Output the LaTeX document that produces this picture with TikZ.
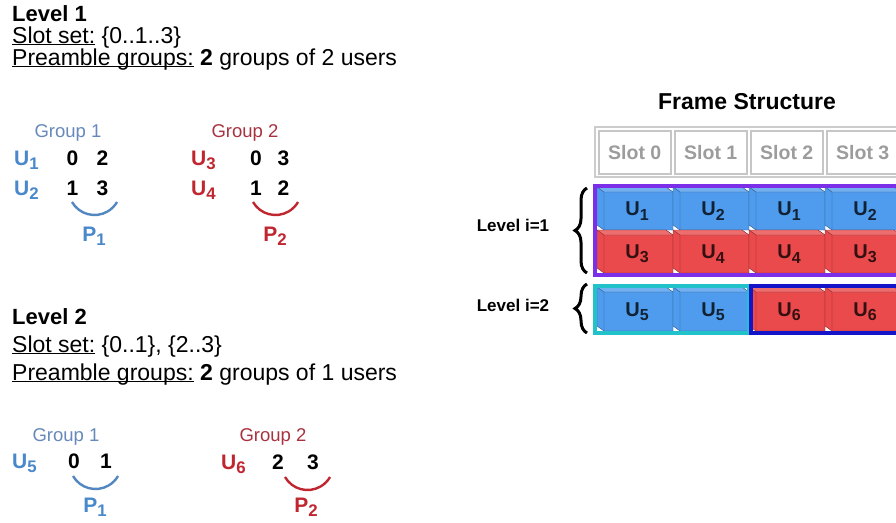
\documentclass[tikz,border=0pt]{standalone}
\usepackage{fontspec}
\setmainfont{Liberation Sans}
\usepackage{graphicx}
\usetikzlibrary{positioning,decorations.pathreplacing}
\usepackage{xcolor}

\definecolor{gblue}{HTML}{4A88CC}
\definecolor{glab}{HTML}{6688BB}
\definecolor{gred}{HTML}{C0262F}
\definecolor{rlab}{HTML}{A83240}
\definecolor{cblue}{HTML}{4F9CEE}
\definecolor{cred}{HTML}{EA4A4C}
\definecolor{slotgray}{HTML}{9C9C9C}
\definecolor{purp}{HTML}{7B2FE8}
\definecolor{cyanb}{HTML}{22C2CA}
\definecolor{deepb}{HTML}{1414C8}

\newcommand{\ul}[1]{\underline{\smash{#1}}}
\newcommand{\idx}[2]{#1\raisebox{-0.22em}{\scalebox{0.8}{#2}}}

\tikzset{
  head/.style={anchor=base west,inner sep=0pt,font=\bfseries\fontsize{22}{26}\selectfont},
  body/.style={anchor=base west,inner sep=0pt,font=\fontsize{23}{27}\selectfont},
  grp/.style={anchor=base,inner sep=0pt,font=\fontsize{18.5}{22}\selectfont},
  usr/.style={anchor=base west,inner sep=0pt,font=\bfseries\fontsize{21}{24}\selectfont},
  dig/.style={anchor=base,inner sep=0pt,font=\bfseries\fontsize{21}{24}\selectfont},
  pre/.style={anchor=base,inner sep=0pt,font=\bfseries\fontsize{21}{24}\selectfont},
  slotbox/.style={draw=gray!45,fill=white,line width=1.5pt},
  pics/cell/.style args={#1/#2/#3}{code={
    % box seen from the front, top and left side
    \fill[#1] (0,0) -- (69,0) -- (76,5) -- (76,#3) -- (7,#3) -- (0,#3-5) -- cycle;
    \fill[#1!80!white] (0,0) -- (69,0) -- (76,5) -- (7,5) -- cycle;
    \draw[#1!55!black,line width=0.4pt] (0,0) -- (69,0) -- (76,5) -- (76,#3) -- (7,#3) -- (0,#3-5) -- cycle;
    \draw[#1!55!black,line width=0.4pt] (0,0) -- (7,5) -- (76,5) (7,5) -- (7,#3);
    \node[font=\bfseries\fontsize{20}{22}\selectfont,text=#1!22!black,inner sep=0pt] (-t) at (40,24+#3/2-21.5) {#2};
  }}
}

\begin{document}
\begin{tikzpicture}[x=1pt,y=-1pt]
  \useasboundingbox (0,0) rectangle (896,522);
  \clip (0,0) rectangle (896,522);

  % level 1
  \node[head] (lv1) at (12,21) {Level 1};
  \node[body] (set1) at (12,43) {\ul{Slot set:} \{0..1..3\}};
  \node[body] (pg1) at (12,65) {\ul{Preamble groups:} \textbf{2} groups of 2 users};

  \node[grp,text=glab] (g11) at (68,137) {Group 1};
  \node[usr,text=gblue] (u1) at (14,165) {\idx{U}{1}};
  \node[usr,text=gblue] (u2) at (14,195) {\idx{U}{2}};
  \node[dig] (d10) at (72.5,165) {0};
  \node[dig] (d12) at (102.5,165) {2};
  \node[dig] (d11) at (72.5,195) {1};
  \node[dig] (d13) at (102.5,195) {3};
  \draw[gblue!85!gray,line width=2.4pt] (72,202) arc[start angle=150,end angle=30,radius=26];
  \node[pre,text=gblue] (p11) at (94,241) {\idx{P}{1}};

  \node[grp,text=rlab] (g12) at (245,137) {Group 2};
  \node[usr,text=gred] (u3) at (191,165) {\idx{U}{3}};
  \node[usr,text=gred] (u4) at (191,195) {\idx{U}{4}};
  \node[dig] (d20) at (256,165) {0};
  \node[dig] (d23) at (283.5,165) {3};
  \node[dig] (d21) at (256,195) {1};
  \node[dig] (d22) at (283.5,195) {2};
  \draw[gred,line width=2.4pt] (253,202) arc[start angle=150,end angle=30,radius=26];
  \node[pre,text=gred] (p12) at (275,241) {\idx{P}{2}};

  % level 2
  \node[head] (lv2) at (12,324) {Level 2};
  \node[body] (set2) at (12,352) {\ul{Slot set:} \{0..1\}, \{2..3\}};
  \node[body] (pg2) at (12,380) {\ul{Preamble groups:} \textbf{2} groups of 1 users};

  \node[grp,text=glab] (g21) at (66,441) {Group 1};
  \node[usr,text=gblue] (u5) at (12,468) {\idx{U}{5}};
  \node[dig] (d30) at (74,468) {0};
  \node[dig] (d31) at (106,468) {1};
  \draw[gblue!85!gray,line width=2.4pt] (73,476) arc[start angle=150,end angle=30,radius=26];
  \node[pre,text=gblue] (p21) at (95,512) {\idx{P}{1}};

  \node[grp,text=rlab] (g22) at (273,441) {Group 2};
  \node[usr,text=gred] (u6) at (221,469) {\idx{U}{6}};
  \node[dig] (d42) at (278,469) {2};
  \node[dig] (d43) at (313,469) {3};
  \draw[gred,line width=2.4pt] (285,477) arc[start angle=150,end angle=30,radius=26];
  \node[pre,text=gred] (p22) at (306,512) {\idx{P}{2}};

  % frame structure
  \node[anchor=base,inner sep=0pt,font=\bfseries\fontsize{23}{26}\selectfont] (fs) at (747,109) {Frame Structure};
  \draw[gray!40,line width=1.5pt] (595,127) rectangle (910,177);
  \foreach \k in {0,...,3}
    \node[slotbox,minimum width=72pt,minimum height=43pt,anchor=north west,
          font=\bfseries\fontsize{19.5}{22}\selectfont,text=slotgray] (s\k) at (598+76*\k,130) {Slot \k};

  \foreach \lab [count=\k from 0] in {\idx{U}{1},\idx{U}{2},\idx{U}{1},\idx{U}{2}}
    \pic (a\k) at (597+76*\k,187) {cell={cblue/\lab/43}};
  \foreach \lab [count=\k from 0] in {\idx{U}{3},\idx{U}{4},\idx{U}{4},\idx{U}{3}}
    \pic (b\k) at (597+76*\k,230) {cell={cred/\lab/43}};
  \foreach \lab [count=\k from 0] in {\idx{U}{5},\idx{U}{5}}
    \pic (c\k) at (597+76*\k,287) {cell={cblue/\lab/44}};
  \foreach \lab [count=\k from 2] in {\idx{U}{6},\idx{U}{6}}
    \pic (c\k) at (597+76*\k,287) {cell={cred/\lab/44}};

  \draw[purp,line width=4pt] (594.5,185.5) rectangle (912,275);
  \draw[cyanb,line width=4pt] (594.5,285.5) rectangle (749,333);
  \draw[deepb,line width=4pt] (751,285.5) rectangle (912,333);

  % levels
  \node[font=\bfseries\fontsize{17}{20}\selectfont,inner sep=0pt] (li1) at (513,225) {Level i=1};
  \node[font=\bfseries\fontsize{17}{20}\selectfont,inner sep=0pt] (li2) at (513,305) {Level i=2};
  \coordinate (b1t) at (587,188);
  \coordinate (b1b) at (587,273);
  \coordinate (b2t) at (587,284);
  \coordinate (b2b) at (587,333);
  \draw[line width=3pt,decorate,decoration={brace,amplitude=12pt}] (b1b) -- (b1t);
  \draw[line width=3pt,decorate,decoration={brace,amplitude=12pt}] (b2b) -- (b2t);
\end{tikzpicture}
\end{document}
